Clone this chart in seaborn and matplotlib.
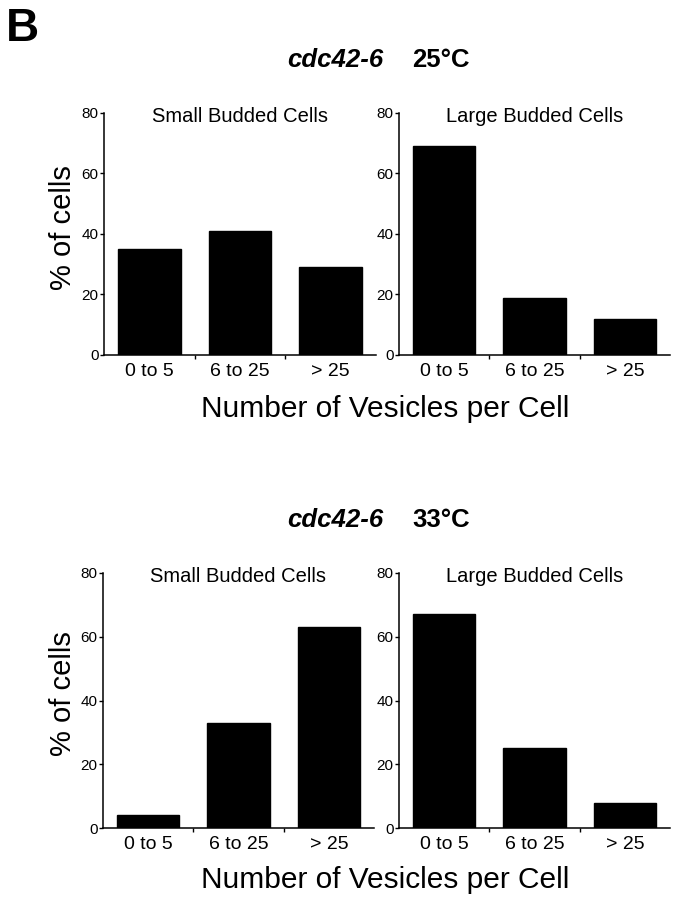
import matplotlib
matplotlib.use("Agg")
import matplotlib.pyplot as plt
import seaborn as sns

sns.set_theme(style="ticks")
plt.rcParams['font.family'] = ['Liberation Sans', 'DejaVu Sans']
plt.rcParams['text.color'] = 'black'
plt.rcParams['axes.labelcolor'] = 'black'
plt.rcParams['xtick.color'] = 'black'
plt.rcParams['ytick.color'] = 'black'

# --- data (% of cells) ---
categories = ["0 to 5", "6 to 25", "> 25"]
small_25 = [35, 41, 29]
large_25 = [69, 19, 12]
small_33 = [4, 33, 63]
large_33 = [67, 25, 8]

W, H = 679, 900
fig = plt.figure(figsize=(W / 100, H / 100), dpi=100)


def px_axes(left, top, right, bottom):
    # axes placed in pixel coords of the reference
    return fig.add_axes([left / W, 1 - bottom / H, (right - left) / W, (bottom - top) / H])


def panel(ax, values, subtitle):
    sns.barplot(x=categories, y=values, color="black", saturation=1,
                width=0.69, ax=ax, edgecolor="black")
    ax.set_xlim(-0.5, 2.5)
    ax.set_ylim(0, 80)
    ax.set_yticks([0, 20, 40, 60, 80])
    ax.set_xlabel("")
    ax.set_ylabel("")
    sns.despine(ax=ax)
    for s in ["left", "bottom"]:
        ax.spines[s].set_linewidth(1.1)
        ax.spines[s].set_color("black")
    ax.tick_params(axis="y", labelsize=11, length=3, width=1, pad=1)
    ax.tick_params(axis="x", which="major", labelsize=14, length=0, pad=6)
    ax.set_xticks([0.5, 1.5], minor=True)
    ax.tick_params(axis="x", which="minor", length=3, width=1)
    ax.text(0.5, 0.985, subtitle, transform=ax.transAxes, ha="center", va="center",
            fontsize=14.5)
    ax.set_facecolor("white")


panel(px_axes(104, 113, 376, 355), small_25, "Small Budded Cells")
panel(px_axes(399, 113, 670, 355), large_25, "Large Budded Cells")
panel(px_axes(103, 573, 374, 828), small_33, "Small Budded Cells")
panel(px_axes(399, 573, 670, 828), large_33, "Large Budded Cells")

# panel letter
fig.text(6 / W, 1 - 41 / H, "B", fontsize=33, fontweight="bold", ha="left", va="baseline")

# row titles: italic strain name + temperature
for base_y, temp in [(67, "25°C"), (527, "33°C")]:
    fig.text(383 / W, 1 - base_y / H, "cdc42-6", fontsize=18.5, fontweight="bold",
             fontstyle="italic", ha="right", va="baseline")
    fig.text(412 / W, 1 - base_y / H, temp, fontsize=18.5, fontweight="bold",
             ha="left", va="baseline")

# shared axis labels
for base_y in [417, 888]:
    fig.text(385 / W, 1 - base_y / H, "Number of Vesicles per Cell", fontsize=21.5,
             ha="center", va="baseline")
for cy in [228, 694]:
    fig.text(63 / W, 1 - cy / H, "% of cells", fontsize=21, rotation=90,
             ha="center", va="center")

fig.savefig("out.png", dpi=100, facecolor="white")
